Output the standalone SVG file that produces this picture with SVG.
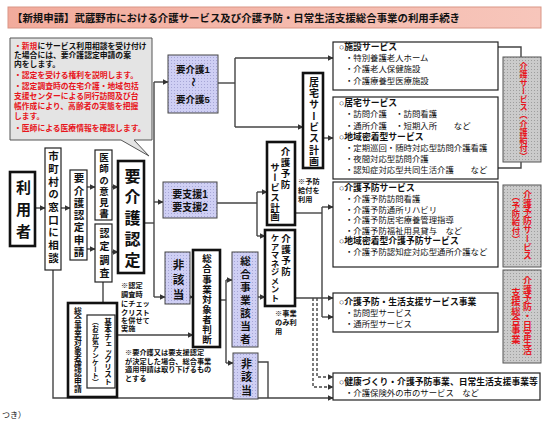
<svg xmlns="http://www.w3.org/2000/svg" width="549" height="422" viewBox="0 0 549 422">
<defs>
<pattern id="lavp" width="3" height="3" patternUnits="userSpaceOnUse"><rect width="3" height="3" fill="#cfcff4"/><rect width="1" height="1" fill="#a6a6d6"/></pattern>
<pattern id="gryp" width="3" height="3" patternUnits="userSpaceOnUse"><rect width="3" height="3" fill="#cbcbcb"/><rect width="1" height="1" fill="#9e9e9e"/></pattern>
<linearGradient id="tg" x1="0" y1="0" x2="1" y2="0"><stop offset="0" stop-color="#f2ab9c"/><stop offset="1" stop-color="#f7c6bb"/></linearGradient>
<marker id="ah" markerWidth="6" markerHeight="6" refX="5.5" refY="3" orient="auto" markerUnits="userSpaceOnUse"><path d="M0,0 L6,3 L0,6 z" fill="#333"/></marker>
</defs>
<style>
text{font-family:"Liberation Sans","Noto Sans CJK JP",sans-serif;fill:#111}
.b{font-weight:bold}
.v{writing-mode:vertical-rl}
.box{fill:#fff;stroke:#222;stroke-width:1.2}
.thick{fill:#fff;stroke:#111;stroke-width:2.6}
.lav{fill:url(#lavp);stroke:#444;stroke-width:1}
.lbl{fill:url(#gryp);stroke:#555;stroke-width:1}
.red{fill:#e8141b;font-weight:bold}
.cn path{fill:none;stroke:#444;stroke-width:1.4}
.dash{stroke-dasharray:3 2}
.note{font-size:7.2px}
.item{font-size:8.4px}
.hd{font-size:8.8px;font-weight:bold}
.co{font-size:7.8px;font-weight:bold}
</style>
<rect width="549" height="422" fill="#fff"/>

<g id="title">
<rect x="8" y="7" width="533" height="21" fill="url(#tg)" stroke="#d99585" stroke-width="1"/>
<text class="b" x="12" y="22" font-size="10.5" textLength="448" lengthAdjust="spacingAndGlyphs">【新規申請】武蔵野市における介護サービス及び介護予防・日常生活支援総合事業の利用手続き</text>
</g>

<g id="callout">
<path d="M10,38 H152 V140 H134 L149,156 L121,140 H10 Z" fill="#e4e4e4" stroke="#555" stroke-width="1"/>
<text class="co" x="14" y="49"><tspan fill="#e8141b">・新規</tspan>にサービス利用相談を受け付け</text>
<text class="co" x="14" y="58">た場合には、要介護認定申請の案</text>
<text class="co" x="14" y="67">内をします。</text>
<text class="co red" x="14" y="78">・認定を受ける権利を説明します。</text>
<text class="co red" x="14" y="89">・認定調査時の在宅介護・地域包括</text>
<text class="co red" x="14" y="99">支援センターによる同行訪問及び台</text>
<text class="co red" x="14" y="109">帳作成により、高齢者の実態を把握</text>
<text class="co red" x="14" y="119">します。</text>
<text class="co red" x="14" y="131">・医師による医療情報を確認します。</text>
</g>

<g id="connectors" class="cn">
<path d="M35,208 H45" marker-end="url(#ah)"/>
<path d="M61,208 H70" marker-end="url(#ah)"/>
<path d="M87,187 H95" marker-end="url(#ah)"/>
<path d="M87,249 H95" marker-end="url(#ah)"/>
<path d="M112,187 H118" marker-end="url(#ah)"/>
<path d="M112,252 H118" marker-end="url(#ah)"/>
<path d="M144,223 H154"/>
<path d="M154,82 V297"/>
<path d="M154,82 H168" marker-end="url(#ah)"/>
<path d="M154,202 H163" marker-end="url(#ah)"/>
<path d="M154,297 H165" marker-end="url(#ah)"/>
<path d="M218,83 H235"/>
<path d="M235,58 V127"/>
<path d="M235,58 H333" marker-end="url(#ah)"/>
<path d="M235,127 H303" marker-end="url(#ah)"/>
<path d="M323,138 H333" marker-end="url(#ah)"/>
<path d="M217,203 H257"/>
<path d="M257,192 V236"/>
<path d="M257,192 H267" marker-end="url(#ah)"/>
<path d="M257,236 H265" marker-end="url(#ah)"/>
<path d="M295,213 H322"/>
<path d="M322,207 V317"/>
<path d="M322,207 H333" marker-end="url(#ah)"/>
<path d="M295,298 H333" marker-end="url(#ah)"/>
<path d="M322,317 H333" marker-end="url(#ah)"/>
<path class="dash" d="M313,298 V387 H333" marker-end="url(#ah)"/>
<path class="dash" d="M317,298 V377 H333" marker-end="url(#ah)"/>
<path d="M53,270 V398 H333" marker-end="url(#ah)"/>
<path d="M258,362 H268 V398"/>
<path d="M103,282 V303"/>
<path d="M117,335 H193" marker-end="url(#ah)"/>
<path d="M190,297 H193" marker-end="url(#ah)"/>
<path d="M220,300 H226"/>
<path d="M226,280 V363"/>
<path d="M226,280 H232" marker-end="url(#ah)"/>
<path d="M226,363 H233" marker-end="url(#ah)"/>
<path d="M258,297 H265" marker-end="url(#ah)"/>
<path d="M498,47 H521 V57"/>
<path d="M498,168 H521 V162"/>
</g>

<g id="user">
<rect class="thick" x="10" y="172" width="25" height="74" stroke-width="3"/>
<text class="v b" x="22.5" y="180" font-size="15" letter-spacing="7">利用者</text>
</g>
<g id="consult">
<rect class="box" x="45" y="148" width="16" height="122"/>
<text class="v b" x="53" y="151" font-size="10.5" letter-spacing="2.2">市町村の窓口に相談</text>
</g>
<g id="apply">
<rect class="box" x="70" y="170" width="17" height="90"/>
<text class="v b" x="78.5" y="173" font-size="10.5" letter-spacing="1.8">要介護認定申請</text>
</g>
<g id="doctor">
<rect class="box" x="95" y="150" width="17" height="70"/>
<text class="v b" x="103.5" y="153" font-size="9.5" letter-spacing="1.6">医師の意見書</text>
</g>
<g id="survey">
<rect class="box" x="95" y="224" width="17" height="58"/>
<text class="v b" x="103.5" y="228" font-size="10" letter-spacing="3.5">認定調査</text>
</g>
<g id="certify">
<rect class="thick" x="118" y="161" width="26" height="112"/>
<text class="v b" x="131" y="168" font-size="16" letter-spacing="5">要介護認定</text>
</g>

<g id="care15">
<rect class="lav" x="168" y="55" width="50" height="58"/>
<text class="b" x="193" y="73" font-size="9.5" text-anchor="middle">要介護1</text>
<text class="b" x="193" y="85" font-size="9.5" text-anchor="middle" transform="rotate(90 193 82)">～</text>
<text class="b" x="193" y="103" font-size="9.5" text-anchor="middle">要介護5</text>
</g>
<g id="support12">
<rect class="lav" x="163" y="182" width="54" height="36"/>
<text class="b" x="190" y="198" font-size="10" text-anchor="middle">要支援1</text>
<text class="b" x="190" y="211" font-size="10" text-anchor="middle">要支援2</text>
</g>
<g id="nonapp1">
<rect class="lav" x="165" y="252" width="25" height="52"/>
<text class="v b" x="177.5" y="259" font-size="11.5" letter-spacing="3.5">非該当</text>
</g>
<g id="judge">
<rect class="thick" x="193" y="250" width="27" height="97"/>
<text class="v b" x="206.5" y="254" font-size="9.5" letter-spacing="0.6">総合事業対象者判断</text>
</g>
<g id="eligible">
<rect class="lav" x="232" y="252" width="26" height="95"/>
<text class="v b" x="245" y="256" font-size="10.5" letter-spacing="2.5">総合事業該当者</text>
</g>
<g id="nonapp2">
<rect class="lav" x="233" y="353" width="25" height="46"/>
<text class="v b" x="245.5" y="358" font-size="11" letter-spacing="2.5">非該当</text>
</g>

<g id="homeplan">
<rect class="thick" x="303" y="73" width="20" height="95"/>
<text class="v b" x="313" y="77" font-size="10" letter-spacing="1.3">居宅サービス計画</text>
</g>
<g id="prevplan">
<rect class="thick" x="267" y="142" width="28" height="83"/>
<text class="v b" x="285" y="147" font-size="9.5" letter-spacing="1.5">介護予防</text>
<text class="v b" x="274.5" y="163" font-size="9.5" letter-spacing="0.3">サービス計画</text>
</g>
<g id="caremgmt">
<rect class="thick" x="265" y="230" width="30" height="76"/>
<text class="v b" x="285.5" y="234" font-size="9.5" letter-spacing="1.5">介護予防</text>
<text class="v b" x="274" y="234" font-size="8.5">ケアマネジメント</text>
</g>

<g id="checklist">
<rect class="thick" x="68" y="303" width="49" height="94" stroke-width="2.2"/>
<text class="v b" x="77" y="307" font-size="7.8">総合事業対象者確認申請</text>
<rect class="box" x="87" y="315" width="28" height="73"/>
<text class="v b" x="107" y="318" font-size="7.5">基本チェックリスト</text>
<text class="v b" x="95" y="318" font-size="6.8">（お元気アンケート）</text>
</g>

<g id="notes">
<text class="note b" x="121" y="288">※認定</text>
<text class="note b" x="121" y="297">調査時</text>
<text class="note b" x="121" y="306">にチェッ</text>
<text class="note b" x="121" y="315">クリスト</text>
<text class="note b" x="121" y="323">を併せて</text>
<text class="note b" x="121" y="331">実施</text>
<text class="note b" x="125" y="355">※要介護又は要支援認定</text>
<text class="note b" x="125" y="364">が決定した場合、総合事業</text>
<text class="note b" x="125" y="372">適用申請は取り下げるもの</text>
<text class="note b" x="125" y="381">とする</text>
<text class="note b" x="298" y="184">※予防</text>
<text class="note b" x="298" y="193">給付を</text>
<text class="note b" x="298" y="202">利用</text>
<text class="note b" x="275" y="316">※事業</text>
<text class="note b" x="275" y="325">のみ利</text>
<text class="note b" x="275" y="334">用</text>
</g>

<g id="svc-facility">
<rect class="box" x="333" y="42" width="165" height="48"/>
<text class="hd" x="339" y="50">○施設サービス</text>
<text class="item" x="345" y="61">・特別養護老人ホーム</text>
<text class="item" x="345" y="72">・介護老人保健施設</text>
<text class="item" x="345" y="84">・介護療養型医療施設</text>
</g>
<g id="svc-home">
<rect class="box" x="333" y="97" width="165" height="82"/>
<text class="hd" x="339" y="106">○居宅サービス</text>
<text class="item" x="345" y="117">・訪問介護　・訪問看護</text>
<text class="item" x="345" y="129">・通所介護　・短期入所　　など</text>
<text class="hd" x="339" y="140">○地域密着型サービス</text>
<text class="item" x="345" y="151">・定期巡回・随時対応型訪問介護看護</text>
<text class="item" x="345" y="162">・夜間対応型訪問介護</text>
<text class="item" x="345" y="173">・認知症対応型共同生活介護　　など</text>
</g>
<g id="svc-prev">
<rect class="box" x="333" y="182" width="165" height="85"/>
<text class="hd" x="339" y="191">○介護予防サービス</text>
<text class="item" x="345" y="202">・介護予防訪問看護</text>
<text class="item" x="345" y="212.5">・介護予防通所リハビリ</text>
<text class="item" x="345" y="223">・介護予防居宅療養管理指導</text>
<text class="item" x="345" y="233.5">・介護予防福祉用具貸与　など</text>
<text class="hd" x="339" y="244">○地域密着型介護予防サービス</text>
<text class="item" x="345" y="254.5">・介護予防認知症対応型通所介護など</text>
</g>
<g id="svc-life">
<rect class="box" x="333" y="293" width="165" height="39"/>
<text class="hd" x="339" y="305">○介護予防・生活支援サービス事業</text>
<text class="item" x="345" y="316">・訪問型サービス</text>
<text class="item" x="345" y="327">・通所型サービス</text>
</g>
<g id="svc-other">
<rect class="box" x="333" y="373" width="207" height="27"/>
<text class="hd" x="339" y="385">○健康づくり・介護予防事業、日常生活支援事業等</text>
<text class="item" x="345" y="396">・介護保険外の市のサービス　など</text>
</g>

<g id="label-care">
<rect class="lbl" x="503" y="57" width="38" height="105"/>
<text class="v red" x="522" y="62" font-size="8.2">介護サービス（介護給付）</text>
</g>
<g id="label-prev">
<rect class="lbl" x="503" y="185" width="38" height="82"/>
<text class="v red" x="527" y="190" font-size="8.8">介護予防サービス</text>
<text class="v red" x="515" y="193" font-size="8.3">（予防給付）</text>
</g>
<g id="label-comp">
<rect class="lbl" x="503" y="270" width="38" height="93"/>
<text class="v red" x="527" y="276" font-size="8.8">介護予防・日常生活</text>
<text class="v red" x="515" y="288" font-size="9.3">支援総合事業</text>
</g>

<text x="2" y="418" font-size="8" fill="#666">つき）</text>
</svg>
